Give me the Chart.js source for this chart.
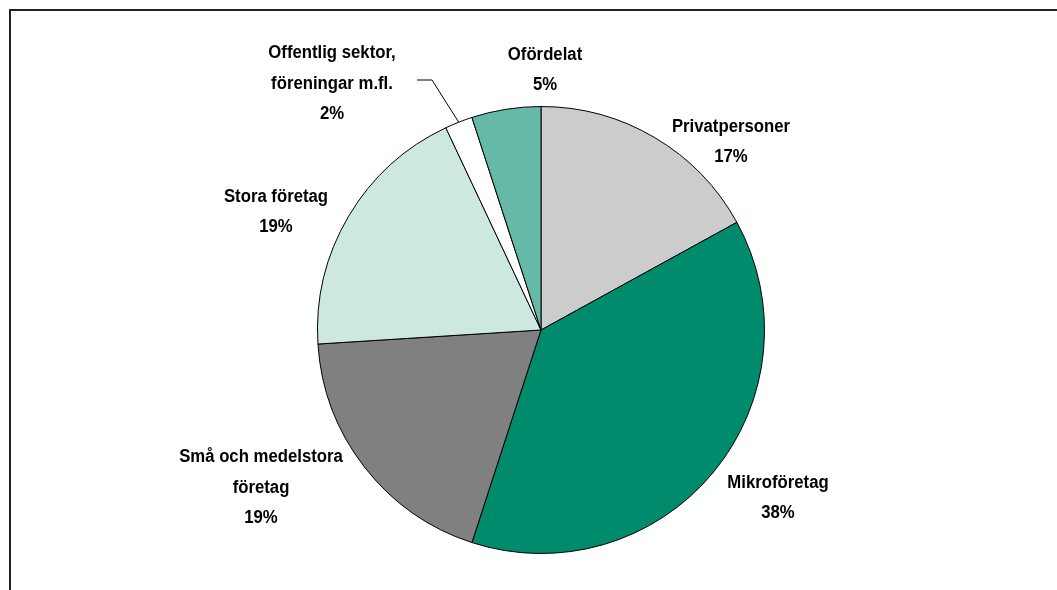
<!DOCTYPE html>
<html>
<head>
<meta charset="utf-8">
<script src="https://cdn.jsdelivr.net/npm/chart.js@4"></script>
<style>
  html, body { margin: 0; padding: 0; background: #fff; overflow: hidden; }
  #ram { position: absolute; left: 9px; top: 9px; width: 1100px; height: 700px;
         border-top: 2px solid #222; border-left: 2px solid #222; }
  #wrap { position: absolute; left: 0; top: 0; width: 1057px; height: 590px; }
</style>
</head>
<body>
<div id="ram"></div>
<div id="wrap"><canvas id="grafico"></canvas></div>
<script>
const kategorier = [
  "Privatpersoner",
  "Mikroföretag",
  "Små och medelstora företag",
  "Stora företag",
  "Offentlig sektor, föreningar m.fl.",
  "Ofördelat",
];
const andelar = [17, 38, 19, 19, 2, 5];
const farger = ["#cccccc", "#008c6c", "#808080", "#cde8e1", "#ffffff", "#66b9a6"];

// etiketternas rader och placering (förskjutning från cirkelns mitt)
const etikettRader = [
  ["Privatpersoner"],
  ["Mikroföretag"],
  ["Små och medelstora", "företag"],
  ["Stora företag"],
  ["Offentlig sektor,", "föreningar m.fl."],
  ["Ofördelat"],
];
const etikettPos = [
  [190, -188],
  [237, 168],
  [-280, 158],
  [-265, -118],
  [-209, -246],
  [4, -260],
];
const radAvstand = 30.5;
const smal = 0.93; // textens horisontella skalning
const typsnitt = "bold 18px 'Liberation Sans', Arial, sans-serif";

const etiketter = {
  id: "etiketter",
  afterDatasetsDraw(chart) {
    const ctx = chart.ctx;
    const arcs = chart.getDatasetMeta(0).data;
    ctx.save();
    ctx.font = typsnitt;
    ctx.fillStyle = "#000";
    ctx.textAlign = "center";
    ctx.textBaseline = "middle";
    arcs.forEach((arc, i) => {
      const cx = arc.x + etikettPos[i][0];
      const cy = arc.y + etikettPos[i][1];
      const rader = etikettRader[i].concat([andelar[i] + "%"]);
      const y0 = cy - ((rader.length - 1) * radAvstand) / 2;
      rader.forEach((r, j) => {
        ctx.save();
        ctx.translate(cx, y0 + j * radAvstand);
        ctx.scale(smal, 1);
        ctx.fillText(r, 0, 0);
        ctx.restore();
      });

      // hänvisningslinje för den smala sektorn
      if (andelar[i] < 3) {
        const mitt = (arc.startAngle + arc.endAngle) / 2;
        const px = arc.x + Math.cos(mitt) * arc.outerRadius;
        const py = arc.y + Math.sin(mitt) * arc.outerRadius;
        const lx = cx + 85;
        const ly = y0 + radAvstand - 4;
        ctx.beginPath();
        ctx.strokeStyle = "#000";
        ctx.lineWidth = 1;
        ctx.moveTo(lx, ly);
        ctx.lineTo(lx + 15, ly);
        ctx.lineTo(px, py);
        ctx.stroke();
      }
    });
    ctx.restore();
  },
};

new Chart(document.getElementById("grafico"), {
  type: "pie",
  data: {
    labels: kategorier,
    datasets: [
      {
        data: andelar,
        backgroundColor: farger,
        borderColor: "#000",
        borderWidth: 1,
      },
    ],
  },
  options: {
    responsive: true,
    maintainAspectRatio: false,
    animation: false,
    layout: { padding: { left: 317, right: 292, top: 106, bottom: 36 } },
    plugins: {
      legend: { display: false },
      tooltip: { enabled: false },
    },
  },
  plugins: [etiketter],
});
</script>
</body>
</html>
